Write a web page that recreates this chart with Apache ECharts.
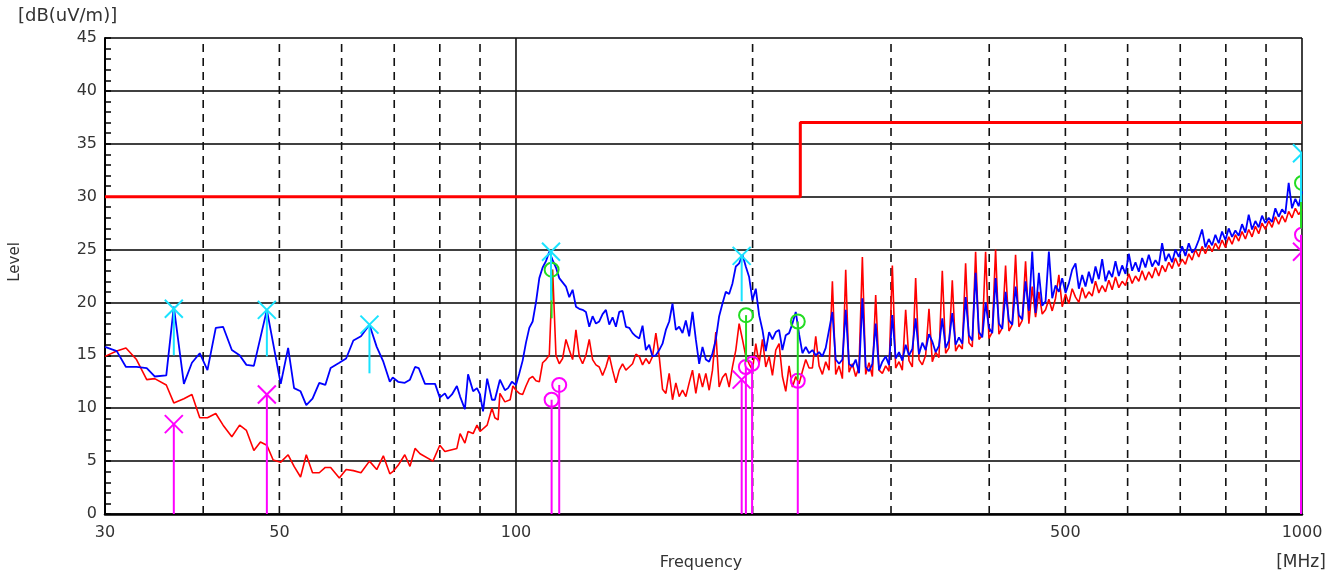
<!DOCTYPE html>
<html>
<head>
<meta charset="utf-8">
<script src="https://cdn.jsdelivr.net/npm/echarts@6/dist/echarts.min.js"></script>
<style>
  html, body { margin: 0; padding: 0; background: #ffffff; }
  #chart { width: 1343px; height: 575px; }
</style>
</head>
<body>
<div id="chart"></div>
<script>
// ---- axis definitions ----
const freqTickLabels = [30, 50, 100, 500, 1000];
const freqGridDashed = [40, 50, 60, 70, 80, 90, 200, 300, 400, 500, 600, 700, 800, 900];
const freqGridSolid = [100, 1000];
const levelMin = 0;
const levelMax = 45;
const levelStep = 5;

// ---- limit line (dB(uV/m)) ----
const limitFreq = [30, 230, 230, 1000];
const limitLevel = [30, 30, 37, 37];

// ---- 30-100 MHz, peak trace (blue) ----
const pkLowFreq = [30.0, 31.05, 31.9, 32.9, 33.9, 34.7, 35.9, 36.7, 37.8, 38.7,
  39.6, 40.5, 41.5, 42.4, 43.5, 44.5, 45.4, 46.4, 48.2, 50.2,
  51.3, 52.2, 53.2, 54.1, 55.1, 56.2, 57.2, 58.1, 59.6, 60.8,
  62.1, 63.5, 65.1, 66.5, 67.8, 69.1, 69.7, 70.8, 72.2, 73.3,
  74.4, 75.2, 76.6, 78.9, 80.0, 81.2, 81.9, 82.9, 84.1, 84.9,
  86.1, 86.9, 88.2, 89.2, 90.0, 90.8, 91.9, 93.2, 94.0, 95.4,
  96.8, 97.7, 98.8];
const pkLowLevel = [15.8, 15.4, 13.9, 13.9, 13.8, 13.0, 13.1, 19.6, 12.3, 14.3,
  15.2, 13.6, 17.6, 17.7, 15.5, 15.0, 14.1, 14.0, 19.3, 12.3,
  15.7, 11.9, 11.6, 10.3, 10.9, 12.4, 12.2, 13.8, 14.3, 14.7,
  16.4, 16.8, 17.9, 15.8, 14.4, 12.5, 12.9, 12.5, 12.4, 12.7,
  13.9, 13.8, 12.3, 12.3, 11.0, 11.4, 10.9, 11.3, 12.1, 11.1,
  9.9, 13.2, 11.6, 11.9, 11.3, 9.7, 12.8, 10.8, 10.8, 12.7,
  11.7, 11.9, 12.5];

// ---- 30-100 MHz, average trace (red) ----
const avLowFreq = [30.0, 31.05, 31.9, 32.9, 33.9, 34.7, 35.9, 36.7, 37.8, 38.7,
  39.6, 40.5, 41.5, 42.4, 43.5, 44.5, 45.4, 46.4, 47.3, 48.2,
  49.1, 50.2, 51.3, 52.2, 53.2, 54.1, 55.1, 56.2, 57.2, 58.1,
  59.6, 60.8, 62.1, 63.5, 65.1, 66.5, 67.8, 69.1, 69.7, 70.8,
  72.2, 73.3, 74.4, 75.5, 78.4, 80.0, 81.2, 84.1, 84.9, 86.1,
  86.9, 88.2, 89.2, 90.0, 91.9, 93.2, 94.0, 94.9, 95.4, 96.8,
  98.3, 99.1];
const avLowLevel = [14.9, 15.4, 15.7, 14.6, 12.7, 12.8, 12.2, 10.5, 10.9, 11.3,
  9.1, 9.1, 9.5, 8.4, 7.3, 8.4, 7.9, 6.0, 6.8, 6.5,
  5.1, 4.9, 5.6, 4.5, 3.5, 5.6, 3.9, 3.9, 4.4, 4.4,
  3.4, 4.2, 4.1, 3.9, 5.0, 4.2, 5.5, 3.8, 4.0, 4.6,
  5.6, 4.5, 6.2, 5.7, 5.0, 6.5, 5.9, 6.2, 7.6, 6.7,
  7.8, 7.6, 8.4, 7.8, 8.4, 10.0, 9.1, 8.9, 11.4, 10.6,
  10.8, 12.1];

// ---- 100-1000 MHz: sweep grid of 236 log steps, 237 points ----
const HIGH_START = 100;
const HIGH_STOP = 1000;
const HIGH_STEPS = 236;
const highFreq = [];
for (let i = 0; i <= HIGH_STEPS; i++) {
  highFreq.push(HIGH_START * Math.pow(HIGH_STOP / HIGH_START, i / HIGH_STEPS));
}

// peak trace (blue), 100-1000 MHz
const pkHighLevel = [
  12.2, 13.3, 14.5, 16.2, 17.6, 18.2, 20.0, 22.3, 23.3, 23.9,
  24.8, 24.0, 23.3, 22.3, 21.9, 21.5, 20.5, 21.2, 19.6, 19.4,
  19.3, 19.1, 17.7, 18.7, 18.0, 18.2, 18.9, 19.3, 17.9, 18.6,
  17.7, 19.1, 19.2, 17.7, 17.6, 17.1, 16.8, 16.6, 17.8, 15.5,
  16.0, 14.9, 15.0, 15.5, 16.1, 17.4, 18.2, 19.9, 17.4, 17.7,
  17.1, 18.3, 16.8, 19.1, 16.5, 14.2, 15.8, 14.6, 14.4, 15.2,
  16.5, 18.7, 19.9, 21.0, 20.8, 21.8, 23.4, 23.7, 24.5, 23.4,
  22.4, 20.2, 21.3, 18.8, 17.4, 15.4, 17.2, 16.5, 17.2, 17.4,
  15.5, 16.9, 17.1, 18.0, 19.1, 17.0, 15.2, 15.8, 15.2, 15.5,
  15.0, 15.3, 14.9, 15.7, 17.4, 19.1, 14.6, 14.2, 14.6, 19.3,
  14.2, 13.9, 14.6, 13.3, 20.4, 13.9, 13.5, 14.2, 18.0, 13.6,
  14.4, 14.9, 14.1, 18.8, 14.7, 15.3, 14.5, 16.0, 15.0, 15.6,
  18.5, 15.1, 16.2, 15.5, 17.0, 16.3, 15.3, 15.9, 18.5, 15.7,
  16.4, 19.0, 16.0, 16.7, 16.1, 20.5, 16.9, 16.4, 22.8, 17.2,
  16.7, 20.0, 17.6, 17.1, 22.3, 18.0, 17.5, 21.0, 18.3, 17.9,
  21.5, 18.8, 18.4, 22.0, 19.2, 24.8, 19.0, 22.8, 19.7, 20.1,
  24.8, 20.4, 21.6, 21.0, 22.3, 20.9, 21.8, 23.1, 23.7, 21.3,
  22.6, 21.5, 22.9, 21.8, 23.4, 22.2, 24.1, 22.0, 23.0, 22.4,
  23.9, 22.5, 23.5, 22.7, 24.6, 23.0, 23.8, 22.9, 24.2, 23.3,
  24.5, 23.4, 24.0, 23.5, 25.6, 23.9, 24.6, 23.8, 25.0, 24.3,
  25.3, 24.4, 25.6, 24.7, 25.1, 25.9, 26.9, 25.2, 26.0, 25.4,
  26.4, 25.6, 26.7, 25.9, 27.0, 26.2, 26.8, 26.3, 27.4, 26.6,
  28.3, 26.9, 27.7, 27.1, 28.2, 27.5, 28.0, 27.6, 28.9, 28.1,
  28.8, 28.4, 31.3, 28.9, 29.8, 29.1, 30.5];

// average trace (red), 100-1000 MHz
const avHighLevel = [
  11.7, 11.4, 11.3, 12.1, 12.8, 13.0, 12.6, 12.5, 14.3, 14.6,
  15.0, 23.1, 15.0, 14.2, 14.7, 16.5, 15.5, 14.6, 17.4, 14.9,
  14.2, 15.0, 16.5, 14.6, 14.1, 13.9, 13.1, 13.9, 15.0, 13.6,
  12.4, 13.6, 14.2, 13.6, 13.9, 14.2, 15.1, 14.9, 14.1, 14.7,
  14.2, 14.9, 17.1, 14.9, 11.8, 11.4, 13.3, 10.8, 12.4, 11.1,
  11.7, 11.1, 12.4, 13.6, 11.4, 13.3, 12.0, 13.3, 11.7, 13.6,
  17.2, 12.0, 12.9, 13.3, 12.0, 13.9, 15.5, 18.0, 16.5, 14.9,
  14.2, 13.6, 16.1, 14.2, 16.5, 13.9, 14.9, 13.1, 15.5, 16.1,
  13.0, 11.6, 14.0, 12.0, 13.0, 12.3, 13.5, 14.6, 13.8, 13.8,
  16.8, 14.0, 13.2, 14.4, 13.6, 22.0, 13.2, 14.0, 12.8, 23.1,
  13.4, 14.2, 13.0, 13.9, 24.3, 13.2, 14.3, 13.0, 20.7, 13.6,
  13.3, 14.0, 13.5, 23.5, 13.8, 14.4, 13.6, 19.3, 14.5, 13.9,
  22.3, 14.6, 14.1, 15.0, 19.4, 14.4, 15.3, 14.8, 23.0, 15.2,
  15.7, 22.1, 15.4, 16.0, 15.6, 23.7, 16.2, 15.8, 24.8, 16.5,
  16.9, 24.8, 16.6, 17.2, 25.0, 17.0, 17.6, 23.5, 17.3, 17.9,
  24.5, 17.7, 18.3, 23.9, 18.0, 21.5, 18.6, 21.0, 18.9, 19.3,
  20.3, 19.2, 20.4, 22.6, 19.6, 20.8, 19.9, 21.3, 20.5, 20.0,
  21.4, 20.4, 21.0, 20.6, 22.0, 20.9, 21.6, 21.0, 22.1, 21.2,
  22.4, 21.4, 22.0, 21.6, 22.7, 21.8, 22.5, 22.0, 23.0, 22.1,
  22.9, 22.3, 23.3, 22.5, 23.5, 22.9, 23.8, 23.2, 24.2, 23.4,
  24.1, 23.6, 24.6, 24.0, 25.0, 24.3, 25.3, 24.6, 25.4, 24.8,
  25.6, 25.0, 25.9, 25.2, 26.2, 25.5, 26.4, 25.8, 26.7, 26.0,
  26.9, 26.2, 27.2, 26.5, 27.5, 26.9, 27.7, 27.1, 28.1, 27.4,
  28.2, 27.6, 28.6, 28.0, 28.9, 28.3, 28.8];

// ---- final measurement markers ----
// peak readings (cyan cross) with their reference line end
const peakFreq = [36.7, 48.2, 65.1, 110.8, 193.7, 1000];
const peakLevel = [19.4, 19.3, 17.9, 24.8, 24.4, 34.1];
const peakLineEnd = [15.0, 14.9, 13.3, 20.2, 20.1, 29.5];
// quasi-peak readings (green circle)
const qpFreq = [111.0, 196.2, 228.3, 1000];
const qpLevel = [23.1, 18.8, 18.2, 31.3];
const qpLineEnd = [18.5, 14.4, 12.7, 27.0];
// average peak readings (magenta cross), drawn down to 0 dB
const avPeakFreq = [36.7, 48.2, 193.7, 1000];
const avPeakLevel = [8.5, 11.3, 12.7, 24.8];
// average readings (magenta circle), drawn down to 0 dB
const avReadFreq = [111.0, 113.5, 196.1, 199.7, 228.3, 1000];
const avReadLevel = [10.8, 12.2, 13.9, 14.2, 12.6, 26.4];

// ---- colours ----
const COL_PEAK = '#0000ff';
const COL_AVG = '#ff0000';
const COL_LIMIT = '#ff0000';
const COL_CYAN = '#19e3ff';
const COL_GREEN = '#22dd22';
const COL_MAGENTA = '#ff00ff';
const FONT = 'DejaVu Sans';

// ---- series data assembly ----
const pkTrace = pkLowFreq.map((f, i) => [f, pkLowLevel[i]])
  .concat(highFreq.map((f, i) => [f, pkHighLevel[i]]));
const avTrace = avLowFreq.map((f, i) => [f, avLowLevel[i]])
  .concat(highFreq.map((f, i) => [f, avHighLevel[i]]));
const limitData = limitFreq.map((f, i) => [f, limitLevel[i]]);

function vLine(p, q, color, width) {
  return {
    type: 'line',
    shape: { x1: p[0], y1: p[1], x2: q[0], y2: q[1] },
    style: { stroke: color, lineWidth: width }
  };
}

function crossShape(c, color) {
  const h = 9;
  return {
    type: 'group',
    children: [
      { type: 'line', shape: { x1: c[0] - h, y1: c[1] - h, x2: c[0] + h, y2: c[1] + h }, style: { stroke: color, lineWidth: 2 } },
      { type: 'line', shape: { x1: c[0] - h, y1: c[1] + h, x2: c[0] + h, y2: c[1] - h }, style: { stroke: color, lineWidth: 2 } }
    ]
  };
}

function circleShape(c, color) {
  return { type: 'circle', shape: { cx: c[0], cy: c[1], r: 7 }, style: { stroke: color, fill: null, lineWidth: 2 } };
}

// marker series: [freq, level, lineEnd]
function markerSeries(freqs, levels, ends, color, kind, z) {
  return {
    type: 'custom',
    clip: true,
    z: z,
    silent: true,
    data: freqs.map((f, i) => [f, levels[i], ends[i]]),
    encode: { x: 0, y: 1 },
    renderItem: function (params, api) {
      const f = api.value(0);
      const p = api.coord([f, api.value(1)]);
      const q = api.coord([f, api.value(2)]);
      const width = f >= 1000 ? 4 : 2;
      return {
        type: 'group',
        children: [
          vLine(p, q, color, width),
          kind === 'cross' ? crossShape(p, color) : circleShape(p, color)
        ]
      };
    }
  };
}

function gridSeries(freqs, dashed) {
  return {
    type: 'custom',
    z: 1,
    silent: true,
    data: freqs.map(f => [f, levelMin]),
    encode: { x: 0, y: 1 },
    renderItem: function (params, api) {
      const f = api.value(0);
      const p0 = api.coord([f, levelMin]);
      const p1 = api.coord([f, levelMax]);
      return {
        type: 'line',
        shape: { x1: p0[0], y1: p0[1], x2: p1[0], y2: p1[1] },
        style: { stroke: '#111111', lineWidth: 1.6, lineDash: dashed ? [8, 6] : null }
      };
    }
  };
}

const chart = echarts.init(document.getElementById('chart'), null, { renderer: 'canvas' });

chart.setOption({
  animation: false,
  backgroundColor: '#ffffff',
  grid: { left: 105, right: 41, top: 38, bottom: 61, containLabel: false },
  xAxis: {
    type: 'log',
    logBase: 10,
    min: 30,
    max: 1000,
    axisLine: { show: true, onZero: false, lineStyle: { color: '#000000', width: 2.5 } },
    axisTick: { show: false },
    splitLine: { show: false },
    minorSplitLine: { show: false },
    axisLabel: {
      customValues: freqTickLabels,
      formatter: function (v) { return String(Math.round(v)); },
      fontFamily: FONT,
      fontSize: 16,
      color: '#333333',
      margin: 11
    }
  },
  yAxis: {
    type: 'value',
    min: levelMin,
    max: levelMax,
    interval: levelStep,
    axisLine: { show: true, lineStyle: { color: '#000000', width: 2 } },
    axisTick: { show: true, inside: true, length: 6, lineStyle: { color: '#000000', width: 1.5 } },
    minorTick: { show: true, splitNumber: 5, length: 6, lineStyle: { color: '#000000', width: 1.5 } },
    splitLine: { show: true, lineStyle: { color: '#000000', width: 1.6 } },
    axisLabel: { fontFamily: FONT, fontSize: 16, color: '#333333', margin: 8 }
  },
  graphic: [
    { type: 'text', left: 18, top: 7, style: { text: '[dB(uV/m)]', font: '18px "DejaVu Sans"', fill: '#333333' } },
    { type: 'text', x: 15, y: 262, rotation: Math.PI / 2, style: { text: 'Level', font: '15px "DejaVu Sans"', fill: '#333333', align: 'center', verticalAlign: 'middle' } },
    { type: 'text', x: 701, y: 563, style: { text: 'Frequency', font: '16px "DejaVu Sans"', fill: '#333333', align: 'center', verticalAlign: 'middle' } },
    { type: 'text', x: 1301, y: 563, style: { text: '[MHz]', font: '17px "DejaVu Sans"', fill: '#333333', align: 'center', verticalAlign: 'middle' } }
  ],
  series: [
    gridSeries(freqGridDashed, true),
    gridSeries(freqGridSolid, false),
    {
      name: 'Limit',
      type: 'line',
      z: 3,
      data: limitData,
      symbol: 'none',
      silent: true,
      lineStyle: { color: COL_LIMIT, width: 3 }
    },
    {
      name: 'Average',
      type: 'line',
      z: 4,
      data: avTrace,
      symbol: 'none',
      silent: true,
      sampling: null,
      lineStyle: { color: COL_AVG, width: 1.6 }
    },
    {
      name: 'Peak',
      type: 'line',
      z: 5,
      data: pkTrace,
      symbol: 'none',
      silent: true,
      sampling: null,
      lineStyle: { color: COL_PEAK, width: 1.8 }
    },
    markerSeries(avPeakFreq, avPeakLevel, avPeakFreq.map(() => 0), COL_MAGENTA, 'cross', 6),
    markerSeries(avReadFreq, avReadLevel, avReadFreq.map(() => 0), COL_MAGENTA, 'circle', 6),
    markerSeries(qpFreq, qpLevel, qpLineEnd, COL_GREEN, 'circle', 7),
    markerSeries(peakFreq, peakLevel, peakLineEnd, COL_CYAN, 'cross', 8)
  ]
});
</script>
</body>
</html>
